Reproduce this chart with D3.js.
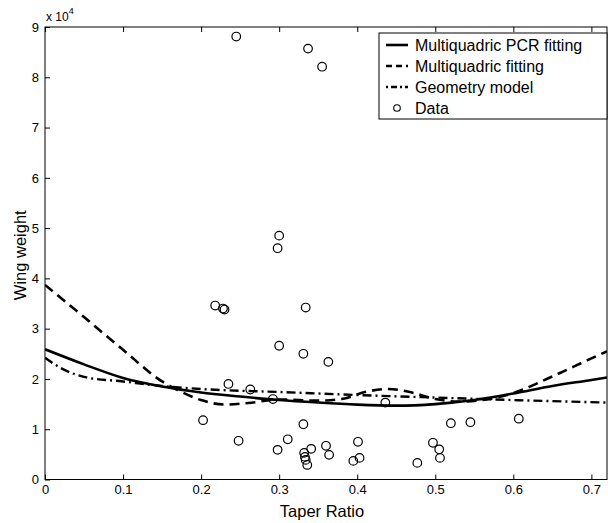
<!DOCTYPE html>
<html><head><meta charset="utf-8">
<script src="https://cdn.jsdelivr.net/npm/d3@7"></script>
<style>body{margin:0;background:#fff;}svg{display:block;font-family:Arial,"Liberation Sans",sans-serif;}</style>
</head><body>
<svg id="c" width="608" height="523"></svg>
<script>
// Data (y values in units of 10^4)
const xTicks = [0,0.1,0.2,0.3,0.4,0.5,0.6,0.7];
const yTicks = [0,1,2,3,4,5,6,7,8,9];
const pcrX = [0,0.05,0.1,0.15,0.2,0.25,0.3,0.35,0.4,0.45,0.5,0.55,0.6,0.65,0.7,0.72];
const pcrY = [2.59,2.29,2.02,1.85,1.73,1.65,1.58,1.53,1.49,1.47,1.50,1.58,1.71,1.86,1.98,2.03];
const mqX = [0,0.05,0.1,0.15,0.17,0.2,0.23,0.26,0.3,0.35,0.38,0.41,0.44,0.47,0.5,0.53,0.56,0.6,0.65,0.7,0.72];
const mqY = [3.87,3.23,2.58,1.95,1.78,1.58,1.49,1.52,1.59,1.57,1.60,1.74,1.80,1.73,1.60,1.55,1.58,1.72,2.05,2.41,2.55];
const geoX = [0,0.02,0.05,0.1,0.15,0.2,0.3,0.4,0.5,0.6,0.72];
const geoY = [2.42,2.22,2.04,1.95,1.86,1.80,1.74,1.68,1.63,1.58,1.53];
const dataX = [0.245,0.337,0.355,0.300,0.298,0.218,0.228,0.230,0.334,0.300,0.331,0.363,0.235,0.263,0.292,
  0.2025,0.248,0.298,0.311,0.331,0.332,0.333,0.334,0.336,0.341,0.360,0.364,0.401,0.395,0.403,
  0.436,0.520,0.545,0.607,0.497,0.505,0.506,0.477];
const dataY = [8.81,8.57,8.21,4.85,4.60,3.46,3.40,3.38,3.42,2.66,2.50,2.34,1.90,1.79,1.60,
  1.18,0.77,0.59,0.80,1.10,0.53,0.45,0.39,0.29,0.61,0.67,0.49,0.75,0.37,0.43,
  1.53,1.12,1.14,1.21,0.73,0.60,0.43,0.33];
const legendLabels = ["Multiquadric PCR fitting","Multiquadric fitting","Geometry model","Data"];

const svg = d3.select("#c");
const L=45, R=607, T=27, B=479.5;
const x = d3.scaleLinear().domain([0,0.72]).range([L,R]);
const y = d3.scaleLinear().domain([0,9]).range([B,T]);

// box
svg.append("rect").attr("x",L).attr("y",T).attr("width",R-L).attr("height",B-T)
  .attr("fill","none").attr("stroke","#000").attr("stroke-width",1);

// axes with inward ticks
const xb = svg.append("g").attr("transform",`translate(0,${B})`)
  .call(d3.axisBottom(x).tickValues(xTicks).tickSize(-5).tickPadding(5).tickFormat(d=>d===0?"0":d3.format(".1f")(d)));
const xt = svg.append("g").attr("transform",`translate(0,${T})`)
  .call(d3.axisTop(x).tickValues(xTicks).tickSize(-5).tickFormat(""));
const yl = svg.append("g").attr("transform",`translate(${L},0)`)
  .call(d3.axisLeft(y).tickValues(yTicks).tickSize(-5).tickPadding(6).tickFormat(d3.format("d")));
[xb,xt,yl].forEach(g=>{g.select(".domain").remove();g.selectAll("line").attr("stroke","#000");
  g.selectAll("text").attr("fill","#000").style("font-size","13px").style("font-family","Arial,'Liberation Sans',sans-serif");});

// exponent
const ex = svg.append("text").attr("x",46).attr("y",21).style("font-size","12px").attr("fill","#000");
ex.append("tspan").text("x 10");
ex.append("tspan").attr("dy",-7).style("font-size","9px").text("4");

// axis labels
svg.append("text").attr("x",(L+R)/2-4).attr("y",517).attr("text-anchor","middle")
  .style("font-size","16.5px").text("Taper Ratio");
svg.append("text").attr("transform",`translate(26,${(T+B)/2+2}) rotate(-90)`).attr("text-anchor","middle")
  .style("font-size","16.5px").text("Wing weight");

const line = d3.line().x(d=>x(d[0])).y(d=>y(d[1])).curve(d3.curveMonotoneX);
svg.append("clipPath").attr("id","pc").append("rect").attr("x",L).attr("y",T).attr("width",R-L).attr("height",B-T);
const g = svg.append("g").attr("clip-path","url(#pc)");

g.append("path").datum(geoX.map((v,i)=>[v,geoY[i]])).attr("d",line).attr("fill","none")
  .attr("stroke","#000").attr("stroke-width",2.4).attr("stroke-dasharray","9,4,2,4");
g.append("path").datum(mqX.map((v,i)=>[v,mqY[i]])).attr("d",line).attr("fill","none")
  .attr("stroke","#000").attr("stroke-width",2.6).attr("stroke-dasharray","10,6");
g.append("path").datum(pcrX.map((v,i)=>[v,pcrY[i]])).attr("d",line).attr("fill","none")
  .attr("stroke","#000").attr("stroke-width",2.6);

g.selectAll("circle.d").data(dataX.map((v,i)=>[v,dataY[i]])).enter().append("circle")
  .attr("cx",d=>x(d[0])).attr("cy",d=>y(d[1])).attr("r",4.3)
  .attr("fill","none").attr("stroke","#000").attr("stroke-width",1.2);

// legend
const lg = svg.append("g");
lg.append("rect").attr("x",379).attr("y",33).attr("width",228).attr("height",86)
  .attr("fill","#fff").attr("stroke","#000").attr("stroke-width",1);
const styles = [{d:null},{d:"6,4"},{d:"2,3,6,3"}];
legendLabels.forEach((t,i)=>{
  const yy = 45 + i*21;
  if(i<3){
    const ln = lg.append("line").attr("x1",386).attr("x2",408).attr("y1",yy).attr("y2",yy)
      .attr("stroke","#000").attr("stroke-width",2.6);
    if(styles[i].d) ln.attr("stroke-dasharray",styles[i].d);
  } else {
    lg.append("circle").attr("cx",397).attr("cy",yy).attr("r",3.3).attr("fill","none").attr("stroke","#000").attr("stroke-width",1.1);
  }
  lg.append("text").attr("x",415).attr("y",yy+5.5).style("font-size","16px").attr("fill","#000").text(t);
});
</script>
</body></html>
